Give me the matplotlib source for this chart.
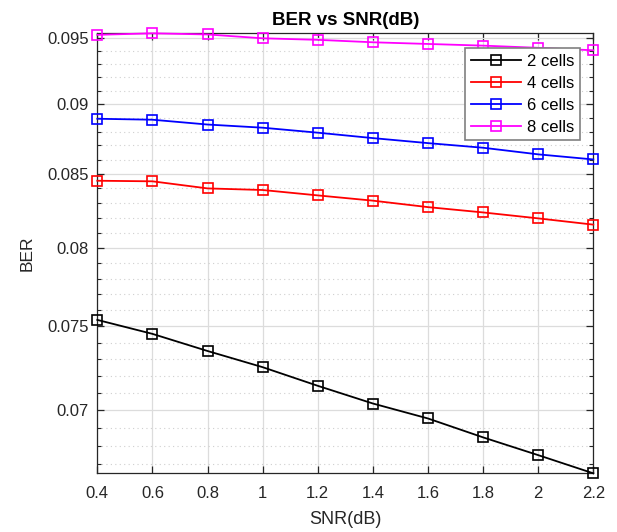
import matplotlib
matplotlib.use('Agg')
import matplotlib.pyplot as plt
from matplotlib.ticker import FixedLocator, MultipleLocator, NullFormatter, FixedFormatter

plt.rcParams['font.family'] = ['Liberation Sans', 'DejaVu Sans']

snr = [0.4, 0.6, 0.8, 1.0, 1.2, 1.4, 1.6, 1.8, 2.0, 2.2]
ber_2 = [0.07540, 0.07454, 0.07350, 0.07253, 0.07143, 0.07040, 0.06954, 0.06847, 0.06748, 0.06648]
ber_4 = [0.08452, 0.08448, 0.08399, 0.08388, 0.08351, 0.08315, 0.08271, 0.08235, 0.08195, 0.08153]
ber_6 = [0.08893, 0.08886, 0.08851, 0.08828, 0.08792, 0.08753, 0.08717, 0.08684, 0.08637, 0.08601]
ber_8 = [0.09527, 0.09539, 0.09530, 0.09500, 0.09488, 0.09469, 0.09456, 0.09443, 0.09426, 0.09407]

series = [(ber_2, '#000000', '2 cells'), (ber_4, '#ff0000', '4 cells'),
          (ber_6, '#0000ff', '6 cells'), (ber_8, '#ff00ff', '8 cells')]

yticks = [0.07, 0.075, 0.08, 0.085, 0.09, 0.095]
ytick_labels = ['0.07', '0.075', '0.08', '0.085', '0.09', '0.095']
xticks = [0.4, 0.6, 0.8, 1.0, 1.2, 1.4, 1.6, 1.8, 2.0, 2.2]
xtick_labels = ['0.4', '0.6', '0.8', '1', '1.2', '1.4', '1.6', '1.8', '2', '2.2']

fig = plt.figure(figsize=(6.17, 5.32), dpi=100)
ax = fig.add_axes([0.1577, 0.1103, 0.8039, 0.8271])

for vals, c, lab in series:
    ax.semilogy(snr, vals, color=c, lw=1.3, marker='s', markersize=7.5,
                markerfacecolor='none', markeredgewidth=1.2, label=lab,
                clip_on=False, zorder=3)

ax.set_xlim(0.4, 2.2)
ax.set_ylim(min(ber_2), max(ber_8))

ax.yaxis.set_major_locator(FixedLocator(yticks))
ax.yaxis.set_major_formatter(FixedFormatter(ytick_labels))
ax.yaxis.set_minor_locator(MultipleLocator(0.001))
ax.yaxis.set_minor_formatter(NullFormatter())
ax.set_xticks(xticks)
ax.set_xticklabels(xtick_labels)

ax.grid(True, which='major', color='#dcdcdc', lw=0.9)
ax.grid(True, which='minor', axis='y', color='#cfcfcf', lw=0.8, linestyle=(0, (1, 3)))
ax.set_axisbelow(True)

ax.tick_params(which='both', direction='in', top=True, right=True,
               colors='#262626', labelsize=12)
ax.tick_params(which='major', length=5, width=0.9)
ax.tick_params(which='minor', length=3, width=0.8)
ax.tick_params(axis='x', pad=9)
ax.tick_params(axis='y', pad=6)
for s in ax.spines.values():
    s.set_color('#262626')
    s.set_linewidth(0.9)

ax.set_xlabel('SNR(dB)', fontsize=13, color='#262626', labelpad=7)
ax.set_ylabel('BER', fontsize=12.5, color='#262626', labelpad=9)
ax.set_title('BER vs SNR(dB)', fontsize=13.5, fontweight='bold', pad=6)

leg = ax.legend(loc='upper right', bbox_to_anchor=(0.973, 0.967), fontsize=12,
                fancybox=False, framealpha=1, edgecolor='#808080',
                borderpad=0.35, labelspacing=0.42, handlelength=3.0,
                handletextpad=0.35, borderaxespad=0)
leg.get_frame().set_linewidth(1.2)
leg.set_zorder(5)

fig.savefig('out.png', dpi=100)
